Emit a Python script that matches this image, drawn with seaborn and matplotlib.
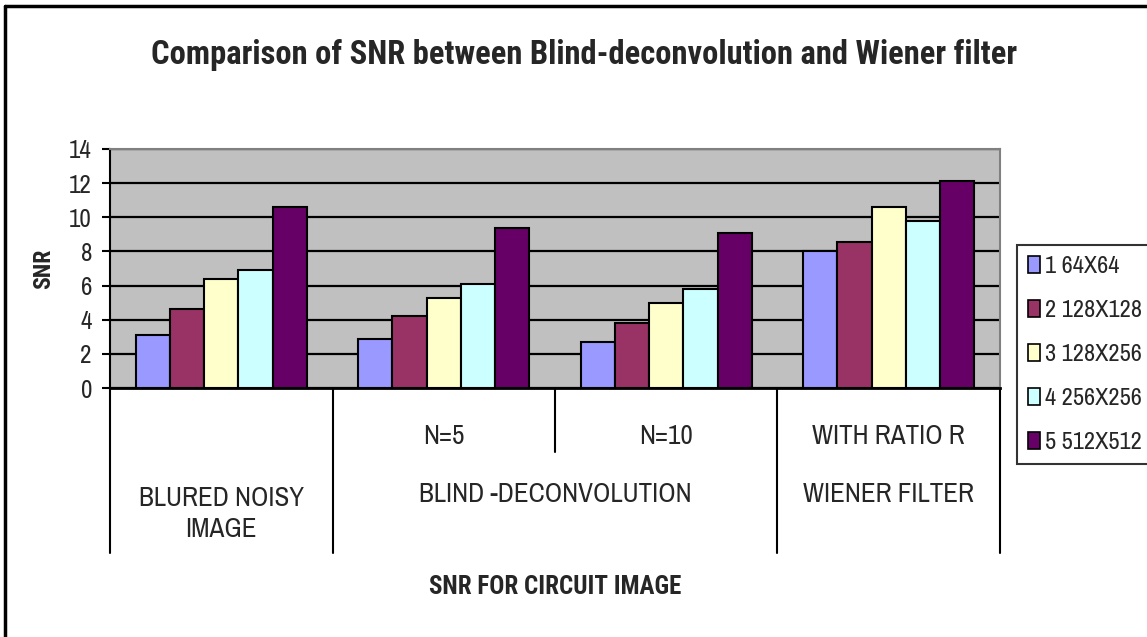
import matplotlib
matplotlib.use("Agg")
import matplotlib.pyplot as plt
import seaborn as sns
import pandas as pd
from matplotlib.lines import Line2D
from matplotlib.patches import Patch

# ---- data ----
groups = ["BLURED NOISY IMAGE", "BLIND N=5", "BLIND N=10", "WIENER WITH RATIO R"]
series = ["1 64X64", "2 128X128", "3 128X256", "4 256X256", "5 512X512"]
s1 = [3.1, 2.85, 2.7, 8.0]
s2 = [4.6, 4.2, 3.8, 8.55]
s3 = [6.4, 5.3, 5.0, 10.6]
s4 = [6.9, 6.1, 5.8, 9.8]
s5 = [10.6, 9.35, 9.1, 12.1]
colors = ["#9999FF", "#993366", "#FFFFCC", "#CCFFFF", "#660066"]
yticks = [0, 2, 4, 6, 8, 10, 12, 14]
sub_labels = ["", "N=5", "N=10", "WITH RATIO R"]
main_labels = ["BLURED NOISY\nIMAGE", "BLIND -DECONVOLUTION", "WIENER FILTER"]
main_pos = [0, 1.5, 3]

rows = []
for name, vals in zip(series, [s1, s2, s3, s4, s5]):
    for g, v in zip(groups, vals):
        rows.append({"group": g, "series": name, "SNR": v})
df = pd.DataFrame(rows)

sns.set_theme(style="white")
FONT = ["Archivo Narrow", "Roboto Condensed", "DejaVu Sans"]
BFONT = ["Roboto Condensed", "PT Sans Narrow", "DejaVu Sans"]
plt.rcParams["font.family"] = FONT

W, H = 1147, 637
fig = plt.figure(figsize=(W / 100, H / 100), dpi=100)
ax = fig.add_axes([110 / W, 1 - 388 / H, (1000 - 110) / W, (388 - 149) / H])
ax.set_facecolor("#C0C0C0")

sns.barplot(data=df, x="group", y="SNR", hue="series", order=groups,
            hue_order=series, palette=colors, width=0.77, saturation=1,
            edgecolor="black", linewidth=1.5, ax=ax, legend=False, zorder=3)

ax.set_ylim(0, 14)
ax.set_xlim(-0.5, 3.5)
ax.set_yticks(yticks)
ax.yaxis.grid(True, color="black", linewidth=1.6, zorder=0)
ax.set_axisbelow(True)
ax.tick_params(axis="y", length=6, width=1.5, color="black", labelsize=18,
               pad=7, left=True)
ax.tick_params(axis="x", bottom=False, labelbottom=False)
for lab in ax.get_yticklabels():
    lab.set_fontfamily(FONT)
for sp in ["top", "right"]:
    ax.spines[sp].set_color("#808080")
    ax.spines[sp].set_linewidth(1.5)
ax.spines["left"].set_color("black")
ax.spines["left"].set_linewidth(1.5)
ax.spines["bottom"].set_color("black")
ax.spines["bottom"].set_linewidth(2)
ax.set_xlabel("")
ax.set_ylabel("SNR", fontsize=17, fontweight="bold", family=BFONT, labelpad=10)

# category table below axis
ah = 388 - 149
tr = ax.get_xaxis_transform()
for xb in [-0.5, 0.5, 2.5, 3.5]:
    ax.plot([xb, xb], [0, -(553 - 388) / ah], transform=tr, color="black",
            lw=1.5, clip_on=False)
ax.plot([1.5, 1.5], [0, -(452 - 388) / ah], transform=tr, color="black",
        lw=1.5, clip_on=False)
for i, t in enumerate(sub_labels):
    if t:
        ax.text(i, -(437 - 388) / ah, t, transform=tr, ha="center", va="center",
                fontsize=19.5, family=FONT)
for p, t in zip(main_pos, main_labels):
    yc = 514 if "\n" in t else 495
    ax.text(p, -(yc - 388) / ah, t, transform=tr, ha="center", va="center",
            fontsize=19.5, family=FONT, linespacing=1.3)
ax.text(1.5, -(587 - 388) / ah, "SNR FOR CIRCUIT IMAGE", transform=tr,
        ha="center", va="center", fontsize=18, fontweight="bold", family=BFONT)

fig.text(584 / W, 1 - 55 / H,
         "Comparison of SNR between Blind-deconvolution and Wiener filter",
         ha="center", va="center", fontsize=23.5, fontweight="bold", family=BFONT)

# legend
handles = [Patch(facecolor=c, edgecolor="black", linewidth=1.2) for c in colors]
leg = fig.legend(handles, series, loc="upper left",
                 bbox_to_anchor=(1017 / W, 1 - 245 / H), frameon=True,
                 handlelength=0.5, handleheight=0.7,
                 handletextpad=0.2, labelspacing=0.95, borderpad=0.45,
                 borderaxespad=0, fancybox=False,
                 prop={"family": FONT, "size": 17.5})
leg.get_frame().set_edgecolor("black")
leg.get_frame().set_linewidth(1.5)

# outer chart frame (only top and left visible)
fig.add_artist(Line2D([5 / W, 5 / W], [0, 1 - 6 / H], color="black", lw=2.5,
                      transform=fig.transFigure))
fig.add_artist(Line2D([5 / W, 1], [1 - 6 / H, 1 - 6 / H], color="black", lw=2.5,
                      transform=fig.transFigure))

fig.savefig("out.png", dpi=100)
